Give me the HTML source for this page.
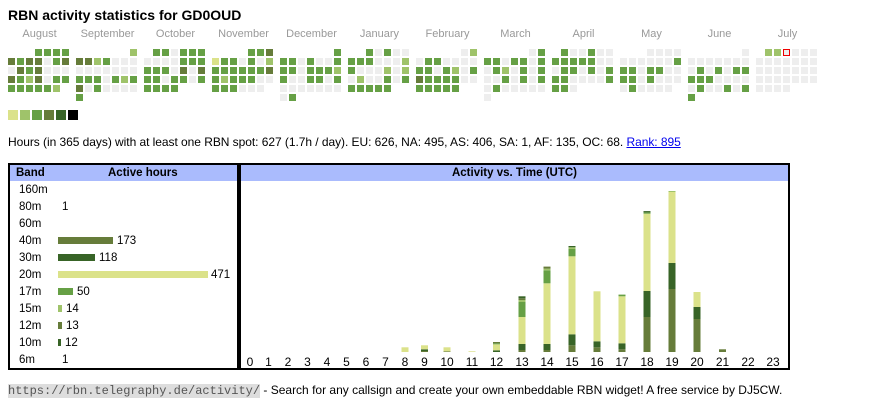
<!DOCTYPE html>
<html><head><meta charset="utf-8"><style>
body{margin:0;width:870px;height:407px;background:#fff;font-family:"Liberation Sans",Arial,sans-serif;position:relative;overflow:hidden}
.a{position:absolute;white-space:nowrap}
.c{position:absolute;width:7px;height:7px;box-sizing:border-box}
.m{position:absolute;top:28px;font-size:11px;color:#999;width:63px;text-align:center}
.box{position:absolute;border:2px solid #000;box-sizing:border-box}
.hd{position:absolute;left:0;right:0;top:0;height:16px;background:#aabbfd;font-size:11.5px;font-weight:bold;line-height:16px}
.bl{position:absolute;font-size:11.5px;left:9px}
.bar{position:absolute;left:48px;height:7px}
.bv{position:absolute;font-size:11.5px}
</style></head><body>
<div class="a" style="left:8px;top:7px;font-size:14px;font-weight:bold">RBN activity statistics for GD0OUD</div>
<div id="g"></div>
<div class="a" style="left:8px;top:135px;font-size:12px;letter-spacing:-0.05px">Hours (in 365 days) with at least one RBN spot: 627 (1.7h / day). EU: 626, NA: 495, AS: 406, SA: 1, AF: 135, OC: 68. <span style="color:#00e;text-decoration:underline">Rank: 895</span></div>

<div class="box" style="left:8px;top:163px;width:231px;height:207px">
<div class="hd"><span style="position:absolute;left:6px">Band</span><span style="position:absolute;left:98px">Active hours</span></div>
<div class="bl" style="top:19px">160m</div>
<div class="bl" style="top:36px">80m</div><div class="bv" style="left:52px;top:36px">1</div>
<div class="bl" style="top:53px">60m</div>
<div class="bl" style="top:70px">40m</div><div class="bar" style="top:72px;width:55px;background:#667c3a"></div><div class="bv" style="left:107px;top:70px">173</div>
<div class="bl" style="top:87px">30m</div><div class="bar" style="top:89px;width:37px;background:#386427"></div><div class="bv" style="left:89px;top:87px">118</div>
<div class="bl" style="top:104px">20m</div><div class="bar" style="top:106px;width:150px;background:#dbe28a"></div><div class="bv" style="left:201px;top:104px">471</div>
<div class="bl" style="top:121px">17m</div><div class="bar" style="top:123px;width:15px;background:#66a045"></div><div class="bv" style="left:67px;top:121px">50</div>
<div class="bl" style="top:138px">15m</div><div class="bar" style="top:140px;width:4px;background:#9fc36a"></div><div class="bv" style="left:56px;top:138px">14</div>
<div class="bl" style="top:155px">12m</div><div class="bar" style="top:157px;width:4px;background:#667c3a"></div><div class="bv" style="left:56px;top:155px">13</div>
<div class="bl" style="top:172px">10m</div><div class="bar" style="top:174px;width:3px;background:#386427"></div><div class="bv" style="left:55px;top:172px">12</div>
<div class="bl" style="top:189px">6m</div><div class="bv" style="left:52px;top:189px">1</div>
</div>

<div class="box" style="left:239px;top:163px;width:551px;height:207px">
<div class="hd" style="text-align:center">Activity vs. Time (UTC)</div>
</div>
<svg class="a" style="left:0;top:0" width="870" height="407" id="s" font-family="Liberation Sans, Arial, sans-serif" font-size="12"></svg>

<div class="a" style="left:8px;top:383px;font-size:12px"><span style="font-family:'Liberation Mono',monospace;background:#ddd;color:#555">https://rbn.telegraphy.de/activity/</span> - Search for any callsign and create your own embeddable RBN widget! A free service by DJ5CW.</div>
<script>
var col={'0':'#eeeeee','1':'#dbe28a','2':'#9fc36a','3':'#66a045','4':'#667c3a','5':'#386427','6':'#000'};
var months=[["August",["   3333","4344034","0434000","4324033","333332 "]],
["September",["      2","4423000","0000000","3330323","4030000","3      "]],
["October",[" 330333","0000333","3330404","3303303","3333   "]],
["November",["    334","1330302","3333334","3233300","333000 "]],
["December",["      3","3303003","3303332","3003303","0000000","03     "]],
["January",["  30300","3330002","3000202","0200303","33333  "]],
["February",["     02","0330000","3303203","4333300","33333  "]],
["March",["     03","3303303","0320303","0030303","0300000","0      "]],
["April",[" 300300","3333300","0330303","3300003","330    "]],
["May",["   0000","0000003","3303300","3303000","030000 "]],
["June",["      0","0000000","0303033","3330000","0300303","3      "]],
["July",[" 22R000","0000000","0000000","0000000","0000   "]]];
var h='';
months.forEach(function(m,i){var x0=8+68*i;h+='<div class="m" style="left:'+x0+'px">'+m[0]+'</div>';
m[1].forEach(function(r,j){for(var k=0;k<7;k++){var ch=r[k];if(ch==' '||ch==undefined)continue;var y=49+9*j,x=x0+9*k;
if(ch=='R')h+='<div class="c" style="left:'+x+'px;top:'+y+'px;background:#eee;border:1px solid #e00"></div>';
else h+='<div class="c" style="left:'+x+'px;top:'+y+'px;background:'+col[ch]+'"></div>';}});});
['1','2','3','4','5','6'].forEach(function(c,i){h+='<div class="c" style="left:'+(8+12*i)+'px;top:110px;width:10px;height:10px;background:'+col[c]+'"></div>';});
document.getElementById('g').innerHTML=h;
var cxs=[250,268.5,288,307.5,327,346.5,366,385.5,405,424.5,447,472,496.5,522,547,572,597,622,647,672,697,722.5,748,773];
var bars={8:[[1,4.7]],9:[[4,1],[5,1.7],[1,4]],10:[[4,0.7],[1,4]],11:[[1,0.7]],12:[[5,1.7],[1,6],[3,1],[4,1.3]],
13:[[4,2],[5,6],[1,27],[3,15],[2,2],[4,1.7],[5,2]],14:[[4,2],[5,6],[1,60.7],[3,13],[2,1.7],[4,2]],
15:[[4,6.7],[5,11],[1,78],[3,7.3],[2,1.7],[5,1.3]],16:[[4,4.7],[5,6],[1,50]],17:[[4,2.7],[5,6],[1,47],[3,1.7]],
18:[[4,35],[5,26],[1,77.3],[3,1.3],[5,1.3]],19:[[4,63],[5,26],[1,71],[2,1]],20:[[4,33],[5,12],[1,15]],21:[[4,2.7]]};
var s='';
for(var t=0;t<24;t++){var cx=cxs[t];s+='<text x="'+cx+'" y="366" text-anchor="middle">'+t+'</text>';
if(bars[t]){var y=352;bars[t].forEach(function(b){y-=b[1];s+='<rect x="'+(cx-3.5)+'" y="'+y+'" width="7" height="'+b[1]+'" fill="'+col[b[0]]+'"/>';});}}
document.getElementById('s').innerHTML=s;
</script>
</body></html>
